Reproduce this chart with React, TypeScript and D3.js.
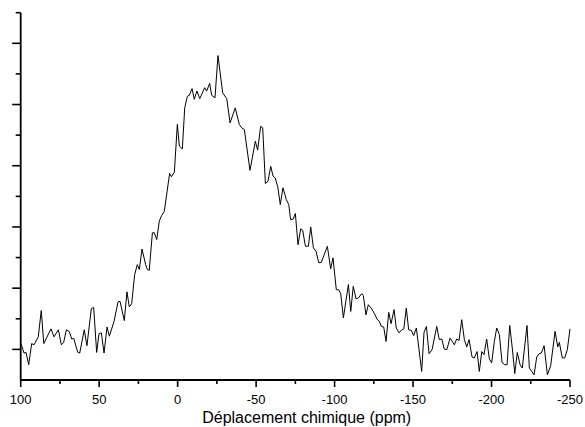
import React from "react";
import * as d3 from "d3";

// Chemical shift (ppm) sampled along the spectrum
const ppm: number[] = [99.8,97.9,96.6,94.9,93.0,91.5,88.8,86.9,85.3,80.7,78.8,76.0,74.1,72.6,70.9,69.0,67.5,66.2,63.7,62.4,59.5,57.8,55.0,53.5,51.6,50.1,48.6,46.9,45.0,43.5,40.5,38.0,36.7,34.0,32.3,30.8,29.3,27.4,25.7,24.4,22.7,20.4,19.3,18.1,16.1,14.9,13.3,11.7,10.2,8.5,5.1,4.0,2.1,0.2,-1.1,-3.0,-4.5,-6.2,-7.4,-9.2,-10.6,-12.3,-14.1,-17.2,-18.5,-20.4,-21.7,-23.8,-25.7,-28.7,-31.3,-33.4,-36.7,-39.3,-40.8,-42.5,-46.1,-49.5,-51.0,-52.9,-54.2,-55.9,-57.6,-59.3,-60.8,-62.2,-63.8,-65.4,-67.1,-69.2,-70.8,-72.0,-73.7,-75.0,-76.7,-78.4,-79.7,-81.4,-83.3,-84.8,-86.5,-88.2,-89.9,-91.5,-95.4,-97.5,-99.0,-101.1,-102.6,-103.9,-105.6,-108.8,-110.3,-111.9,-113.7,-115.1,-117.3,-118.3,-120.0,-121.5,-123.7,-125.8,-127.0,-128.5,-129.8,-131.3,-132.8,-134.5,-136.0,-137.9,-139.3,-141.1,-142.8,-144.1,-145.7,-147.2,-148.9,-150.4,-152.1,-155.5,-157.0,-158.5,-160.2,-162.1,-165.1,-166.7,-168.3,-169.9,-171.5,-173.6,-175.0,-176.3,-177.8,-179.3,-181.0,-182.7,-184.2,-185.7,-187.6,-189.0,-190.8,-192.2,-193.8,-195.2,-196.9,-198.6,-200.1,-201.8,-203.3,-205.0,-206.7,-208.4,-209.9,-211.6,-213.3,-214.8,-216.4,-218.2,-219.6,-222.6,-224.1,-225.6,-227.1,-228.8,-230.3,-231.7,-233.5,-235.6,-237.7,-240.5,-242.2,-243.2,-245.1,-246.6,-248.3,-250.0];

// Signal intensity (arbitrary units)
const intensity: number[] = [0.19,-0.12,-0.10,-0.50,0.19,0.15,0.41,1.27,0.19,0.67,0.41,0.64,0.15,0.23,0.64,0.58,0.34,0.36,-0.09,-0.12,0.64,0.12,1.33,1.37,-0.10,0.51,0.54,-0.12,0.73,0.43,0.92,1.55,1.57,0.94,1.88,1.39,1.49,2.44,2.77,2.61,3.28,2.77,2.61,2.58,3.81,3.81,3.59,4.19,4.37,4.51,5.75,5.64,5.79,7.35,6.64,6.55,7.89,8.27,8.30,8.52,8.17,8.44,8.19,8.55,8.44,8.69,8.30,8.22,9.60,8.38,8.19,7.40,7.89,7.35,7.24,7.18,5.85,6.80,6.51,7.29,7.24,5.42,5.49,5.98,5.66,5.60,5.31,4.73,5.28,4.90,4.73,4.24,4.26,4.44,3.42,3.94,3.89,3.37,3.37,4.00,3.32,3.20,2.83,2.84,3.37,2.63,2.99,1.95,1.95,1.82,1.03,2.12,1.24,2.06,1.65,1.68,1.82,1.76,1.13,1.46,1.32,1.13,0.99,0.92,0.75,0.73,0.26,1.21,0.84,1.30,0.70,0.54,0.64,0.67,1.35,0.64,0.62,0.45,0.70,-0.72,0.56,0.75,-0.14,-0.01,0.75,0.32,0.34,0.01,-0.01,0.37,0.26,0.15,0.34,0.29,0.97,0.32,0.08,0.32,-0.25,-0.28,-0.07,-0.72,-0.07,-0.17,0.34,-0.31,-0.44,0.26,0.70,0.48,-0.43,-0.50,-0.50,0.78,0.01,-0.79,-0.10,-0.50,-0.61,0.78,-0.61,-0.72,-0.83,-0.25,-0.14,-0.12,0.12,-0.83,-0.53,0.59,0.08,0.23,-0.28,-0.28,-0.01,0.67];

const xMajorTicks: number[] = [100, 50, 0, -50, -100, -150, -200, -250];
const xMinorTicks: number[] = [75, 25, -25, -75, -125, -175, -225];
const yMajorTicks: number[] = [0, 2, 4, 6, 8, 10];
const yMinorTicks: number[] = [1, 3, 5, 7, 9, 11];
const xLabel = "Déplacement chimique (ppm)";

const W = 585;
const H = 427;
const left = 20.7;
const right = 570;
const top = 12.7;
const bottom = 380;

export default function App() {
  const x = d3.scaleLinear().domain([100, -250]).range([left, right]);
  const y = d3.scaleLinear().domain([-1, 11]).range([bottom, top]);
  const n = Math.min(ppm.length, intensity.length);
  const pts: [number, number][] = [];
  for (let i = 0; i < n; i++) pts.push([ppm[i], intensity[i]]);
  const line = d3
    .line<[number, number]>()
    .x((d) => x(d[0]))
    .y((d) => y(d[1]));
  const font = "Arial, 'Liberation Sans', Helvetica, sans-serif";
  return (
    <div style={{ position: "absolute", left: 0, top: 0 }}>
      <svg width={W} height={H} style={{ display: "block", background: "#fff" }}>
        <path d={line(pts) || ""} fill="none" stroke="#000" strokeWidth={1} strokeLinejoin="miter" />
        {/* axes */}
        <line x1={left} x2={left} y1={top} y2={bottom} stroke="#000" strokeWidth={1.8} />
        <line x1={left} x2={right} y1={bottom} y2={bottom} stroke="#000" strokeWidth={1.8} />
        {yMajorTicks.map((t) => (
          <line key={"ym" + t} x1={left - 8.5} x2={left} y1={y(t)} y2={y(t)} stroke="#000" strokeWidth={1.6} />
        ))}
        {yMinorTicks.map((t) => (
          <line key={"yn" + t} x1={left - 5} x2={left} y1={y(t)} y2={y(t)} stroke="#000" strokeWidth={1.6} />
        ))}
        {xMajorTicks.map((t) => (
          <line key={"xm" + t} x1={x(t)} x2={x(t)} y1={bottom} y2={bottom + 7} stroke="#000" strokeWidth={1.6} />
        ))}
        {xMinorTicks.map((t) => (
          <line key={"xn" + t} x1={x(t)} x2={x(t)} y1={bottom} y2={bottom + 4} stroke="#000" strokeWidth={1.6} />
        ))}
        {xMajorTicks.map((t) => (
          <text key={"xl" + t} x={x(t)} y={403.5} textAnchor="middle" fontFamily={font} fontSize={13} fill="#000">
            {String(t)}
          </text>
        ))}
        <text x={306.7} y={423.3} textAnchor="middle" fontFamily={font} fontSize={16} fill="#000">
          {xLabel}
        </text>
      </svg>
    </div>
  );
}
